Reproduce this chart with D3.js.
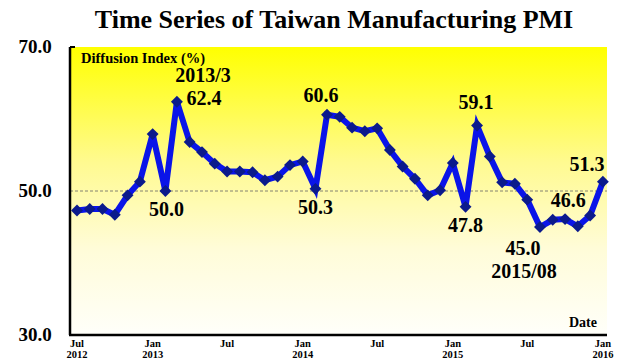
<!DOCTYPE html>
<html>
<head>
<meta charset="utf-8">
<script src="https://cdn.jsdelivr.net/npm/d3@7"></script>
<style>
  body { margin: 0; background: #fff; }
  svg text { font-family: "Liberation Serif", "Times New Roman", Times, serif; font-weight: 700; }
</style>
</head>
<body>
<svg id="chart"></svg>
<script>
// monthly PMI, Jul 2012 .. Jan 2016
const startMonth = "2012-07";
const pmi = [
  47.3, 47.5, 47.5, 46.7, 49.4, 51.3,          // 2012 Jul-Dec
  57.9, 50.0, 62.4, 56.8, 55.4, 53.8, 52.7, 52.7, 52.6, 51.5, 52.0, 53.6, // 2013
  54.1, 50.3, 60.6, 60.3, 58.8, 58.3, 58.7, 55.7, 53.4, 51.7, 49.4, 50.1, // 2014
  53.9, 47.8, 59.1, 54.8, 51.2, 51.0, 48.8, 45.0, 46.0, 46.1, 45.1, 46.6, // 2015
  51.3                                          // 2016 Jan
];
const yTicks = [30, 50, 70];
const xTickDates = ["2012-07", "2013-01", "2013-07", "2014-01", "2014-07", "2015-01", "2015-07", "2016-01"];
const xTickTop = ["Jul", "Jan", "Jul", "Jan", "Jul", "Jan", "Jul", "Jan"];
const xTickBottom = ["2012", "2013", "", "2014", "", "2015", "", "2016"];
// annotations: index into pmi, label, offset from the point
const notes = [
  { i: 8,  text: "2013/3",  dx: 26,  dy: -20 },
  { i: 8,  text: "62.4",    dx: 27,  dy: 3 },
  { i: 7,  text: "50.0",    dx: 1,   dy: 25 },
  { i: 20, text: "60.6",    dx: -6,  dy: -13 },
  { i: 19, text: "50.3",    dx: 0,   dy: 25 },
  { i: 32, text: "59.1",    dx: -1,  dy: -16 },
  { i: 31, text: "47.8",    dx: 0,   dy: 25 },
  { i: 37, text: "45.0",    dx: -17, dy: 28 },
  { i: 37, text: "2015/08", dx: -16, dy: 51 },
  { i: 41, text: "46.6",    dx: -22, dy: -8 },
  { i: 42, text: "51.3",    dx: -16, dy: -11 }
];

const width = 640, height = 363;
const margin = { top: 47, right: 33, bottom: 28, left: 70 };

const parse = d3.timeParse("%Y-%m");
const t0 = parse(startMonth);
const data = pmi.map((v, i) => ({ date: d3.timeMonth.offset(t0, i), value: v }));

const svg = d3.select("#chart")
    .attr("width", width)
    .attr("height", height);

const x = d3.scaleTime()
    .domain([d3.timeDay.offset(parse("2012-07"), -17), d3.timeDay.offset(parse("2016-01"), 10)])
    .range([margin.left, width - margin.right]);

const y = d3.scaleLinear()
    .domain([30, 70])
    .range([height - margin.bottom, margin.top]);

// background gradient
const defs = svg.append("defs");
const grad = defs.append("linearGradient")
    .attr("id", "bg")
    .attr("x1", 0).attr("y1", 0).attr("x2", 0).attr("y2", 1);
grad.append("stop").attr("offset", "0%").attr("stop-color", "#ffff00");
grad.append("stop").attr("offset", "40%").attr("stop-color", "#fffa90");
grad.append("stop").attr("offset", "70%").attr("stop-color", "#fffcd8");
grad.append("stop").attr("offset", "100%").attr("stop-color", "#fffffa");

svg.append("rect")
    .attr("x", margin.left)
    .attr("y", margin.top)
    .attr("width", width - margin.right - margin.left)
    .attr("height", height - margin.bottom - margin.top)
    .attr("fill", "url(#bg)");

// title
svg.append("text")
    .attr("x", 334)
    .attr("y", 28)
    .attr("text-anchor", "middle")
    .attr("font-size", "26px")
    .attr("fill", "#000")
    .text("Time Series of Taiwan Manufacturing PMI");

// dashed 50 line
svg.append("line")
    .attr("x1", margin.left).attr("x2", width - margin.right)
    .attr("y1", y(50)).attr("y2", y(50))
    .attr("stroke", "#666")
    .attr("stroke-width", 0.8)
    .attr("stroke-dasharray", "3,2");

// axes
svg.append("line")
    .attr("x1", margin.left).attr("x2", margin.left)
    .attr("y1", y(70)).attr("y2", y(30))
    .attr("stroke", "#000").attr("stroke-width", 2.5);
svg.append("line")
    .attr("x1", margin.left).attr("x2", margin.left + 5)
    .attr("y1", y(70)).attr("y2", y(70))
    .attr("stroke", "#000").attr("stroke-width", 2);
svg.append("line")
    .attr("x1", margin.left - 1).attr("x2", width - margin.right)
    .attr("y1", y(30)).attr("y2", y(30))
    .attr("stroke", "#000").attr("stroke-width", 2.5);

svg.append("g").selectAll("text")
    .data(yTicks)
    .enter().append("text")
    .attr("x", 35)
    .attr("y", d => y(d) + 6)
    .attr("text-anchor", "middle")
    .attr("font-size", "19px")
    .text(d => d3.format(".1f")(d));

const xt = svg.append("g").selectAll("g")
    .data(xTickDates)
    .enter().append("g")
    .attr("transform", d => "translate(" + x(parse(d)) + ",0)");
xt.append("text")
    .attr("y", 347)
    .attr("text-anchor", "middle")
    .attr("font-size", "10.5px")
    .text((d, i) => xTickTop[i]);
xt.append("text")
    .attr("y", 358)
    .attr("text-anchor", "middle")
    .attr("font-size", "10.5px")
    .text((d, i) => xTickBottom[i]);

// axis titles
svg.append("text")
    .attr("x", 81).attr("y", 63)
    .attr("font-size", "14.5px")
    .text("Diffusion Index (%)");
svg.append("text")
    .attr("x", 597).attr("y", 327)
    .attr("text-anchor", "end")
    .attr("font-size", "14px")
    .text("Date");

// series
const line = d3.line()
    .x(d => x(d.date))
    .y(d => y(d.value));

svg.append("path")
    .datum(data)
    .attr("d", line)
    .attr("fill", "none")
    .attr("stroke", "#0a14e8")
    .attr("stroke-width", 6)
    .attr("stroke-linejoin", "miter");

svg.append("g").selectAll("path")
    .data(data)
    .enter().append("path")
    .attr("d", d3.symbol().type(d3.symbolDiamond2).size(90))
    .attr("transform", d => "translate(" + x(d.date) + "," + y(d.value) + ")")
    .attr("fill", "#0b1a8c");

// annotations
svg.append("g").selectAll("text")
    .data(notes)
    .enter().append("text")
    .attr("x", d => x(data[d.i].date) + d.dx)
    .attr("y", d => y(data[d.i].value) + d.dy)
    .attr("text-anchor", "middle")
    .attr("font-size", "20px")
    .text(d => d.text);
</script>
</body>
</html>
